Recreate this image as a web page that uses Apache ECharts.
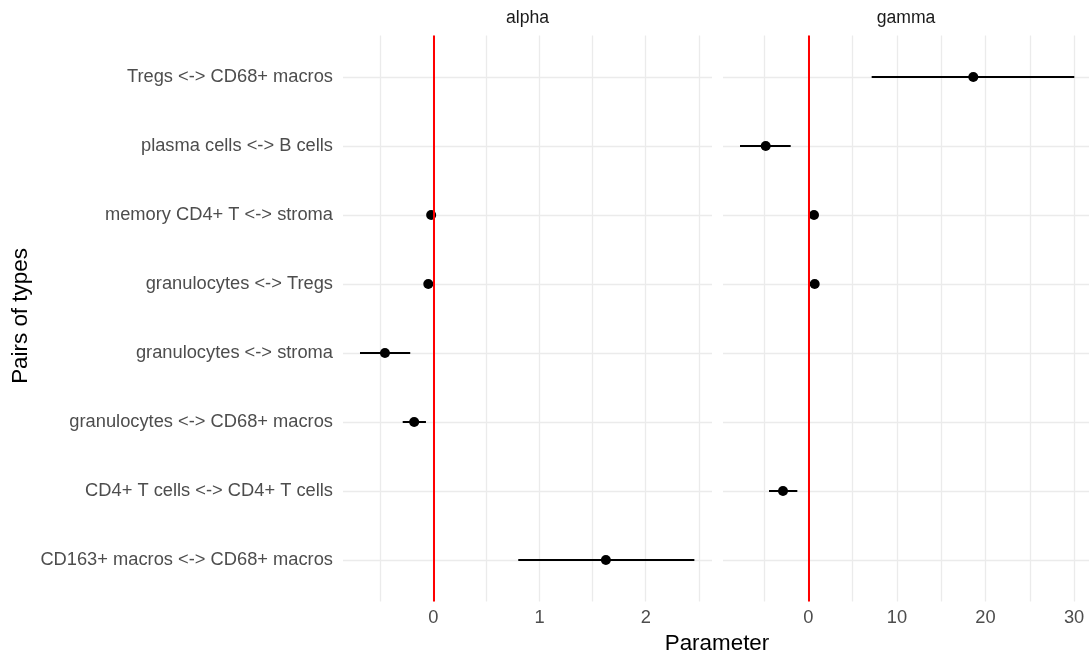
<!DOCTYPE html>
<html>
<head>
<meta charset="utf-8">
<script src="https://cdn.jsdelivr.net/npm/echarts@6/dist/echarts.min.js"></script>
<style>
html,body{margin:0;padding:0;background:#fff;}
#chart{width:1091px;height:660px;}
</style>
</head>
<body>
<div id="chart"></div>
<script>
// ---- data ----
var categories = [
  "CD163+ macros <-> CD68+ macros",
  "CD4+ T cells <-> CD4+ T cells",
  "granulocytes <-> CD68+ macros",
  "granulocytes <-> stroma",
  "granulocytes <-> Tregs",
  "memory CD4+ T <-> stroma",
  "plasma cells <-> B cells",
  "Tregs <-> CD68+ macros"
];
var facets = ["alpha", "gamma"];

var alphaPairs = ["memory CD4+ T <-> stroma", "granulocytes <-> Tregs", "granulocytes <-> stroma", "granulocytes <-> CD68+ macros", "CD163+ macros <-> CD68+ macros"];
var alphaEst   = [-0.02, -0.047, -0.455, -0.18, 1.625];
var alphaLow   = [-0.035, -0.06, -0.69, -0.288, 0.80];
var alphaHigh  = [-0.005, -0.035, -0.217, -0.069, 2.458];

var gammaPairs = ["Tregs <-> CD68+ macros", "plasma cells <-> B cells", "memory CD4+ T <-> stroma", "granulocytes <-> Tregs", "CD4+ T cells <-> CD4+ T cells"];
var gammaEst   = [18.62, -4.81, 0.64, 0.72, -2.86];
var gammaLow   = [7.15, -7.71, 0.45, 0.5, -4.44];
var gammaHigh  = [30.02, -1.99, 0.85, 0.95, -1.24];

var alphaTicks = [0, 1, 2];
var alphaGrid  = [-0.5, 0, 0.5, 1, 1.5, 2, 2.5];
var gammaTicks = [0, 10, 20, 30];
var gammaGrid  = [-5, 0, 5, 10, 15, 20, 25, 30];
var alphaRange = [-0.85, 2.624];
var gammaRange = [-9.63, 31.68];
var refValue = 0;

// ---- build ----
var yIdx = function (name) { return categories.indexOf(name) + 1; };
var yPositions = categories.map(function (c, i) { return i + 1; });

function pointData(pairs, est) {
  return pairs.map(function (p, i) { return [est[i], yIdx(p)]; });
}
function barData(pairs, lo, hi) {
  return pairs.map(function (p, i) { return [lo[i], hi[i], yIdx(p)]; });
}

var gridColor = '#ebebeb';
var tickColor = '#4d4d4d';
var FONT = '"Liberation Sans", Arial, sans-serif';
var TICK_SIZE = 18.3;

function gridSeries(idx, xs) {
  var data = xs.map(function (v) { return { xAxis: v }; })
    .concat(yPositions.map(function (v) { return { yAxis: v }; }));
  return {
    type: 'line', xAxisIndex: idx, yAxisIndex: idx, data: [], silent: true, z: 0,
    markLine: {
      silent: true, symbol: ['none', 'none'], animation: false, z: 0,
      label: { show: false }, emphasis: { disabled: true },
      lineStyle: { color: gridColor, width: 1.3, type: 'solid' },
      data: data
    }
  };
}
function refSeries(idx) {
  return {
    type: 'line', xAxisIndex: idx, yAxisIndex: idx, data: [], silent: true, z: 10,
    markLine: {
      silent: true, symbol: ['none', 'none'], animation: false, z: 10,
      label: { show: false }, emphasis: { disabled: true },
      lineStyle: { color: '#ff0000', width: 2, type: 'solid' },
      data: [{ xAxis: refValue }]
    }
  };
}
function errSeries(idx, data) {
  return {
    type: 'custom', xAxisIndex: idx, yAxisIndex: idx, z: 3, silent: true,
    data: data,
    encode: { x: [0, 1], y: 2 },
    renderItem: function (params, api) {
      var a = api.coord([api.value(0), api.value(2)]);
      var b = api.coord([api.value(1), api.value(2)]);
      return {
        type: 'rect',
        shape: { x: a[0], y: a[1] - 1, width: b[0] - a[0], height: 2 },
        style: { fill: '#000' }
      };
    }
  };
}
function ptSeries(idx, data) {
  return {
    type: 'scatter', xAxisIndex: idx, yAxisIndex: idx, z: 4, silent: true,
    data: data, symbol: 'circle', symbolSize: 10,
    itemStyle: { color: '#000', opacity: 1 }
  };
}

var panelTop = 35.6, panelHeight = 565.8;
var option = {
  animation: false,
  backgroundColor: '#ffffff',
  textStyle: { fontFamily: FONT },
  grid: [
    { left: 343, top: panelTop, width: 369, height: panelHeight },
    { left: 723, top: panelTop, width: 366, height: panelHeight }
  ],
  xAxis: [
    {
      type: 'value', gridIndex: 0, min: alphaRange[0], max: alphaRange[1],
      axisLine: { show: false }, axisTick: { show: false }, splitLine: { show: false },
      axisLabel: { customValues: alphaTicks, color: tickColor, fontSize: TICK_SIZE, margin: 8, fontFamily: FONT }
    },
    {
      type: 'value', gridIndex: 1, min: gammaRange[0], max: gammaRange[1],
      axisLine: { show: false }, axisTick: { show: false }, splitLine: { show: false },
      axisLabel: { customValues: gammaTicks, color: tickColor, fontSize: TICK_SIZE, margin: 8, fontFamily: FONT }
    }
  ],
  yAxis: [
    {
      type: 'value', gridIndex: 0, min: 0.4, max: 8.6,
      axisLine: { show: false }, axisTick: { show: false }, splitLine: { show: false },
      axisLabel: {
        customValues: yPositions, color: tickColor, fontSize: TICK_SIZE, margin: 10, fontFamily: FONT,
        formatter: function (v) { return categories[Math.round(v) - 1] || ''; }
      }
    },
    {
      type: 'value', gridIndex: 1, min: 0.4, max: 8.6,
      axisLine: { show: false }, axisTick: { show: false }, splitLine: { show: false },
      axisLabel: { show: false }
    }
  ],
  series: [
    gridSeries(0, alphaGrid),
    gridSeries(1, gammaGrid),
    errSeries(0, barData(alphaPairs, alphaLow, alphaHigh)),
    errSeries(1, barData(gammaPairs, gammaLow, gammaHigh)),
    ptSeries(0, pointData(alphaPairs, alphaEst)),
    ptSeries(1, pointData(gammaPairs, gammaEst)),
    refSeries(0),
    refSeries(1)
  ],
  graphic: [
    { type: 'text', x: 527.5, y: 18, style: { text: facets[0], fill: '#1a1a1a', font: '17.6px ' + FONT, align: 'center', verticalAlign: 'middle' } },
    { type: 'text', x: 906, y: 18, style: { text: facets[1], fill: '#1a1a1a', font: '17.6px ' + FONT, align: 'center', verticalAlign: 'middle' } },
    { type: 'text', x: 717, y: 644, style: { text: 'Parameter', fill: '#000', font: '22.4px ' + FONT, align: 'center', verticalAlign: 'middle' } },
    { type: 'text', x: 21, y: 316, rotation: Math.PI / 2, style: { text: 'Pairs of types', fill: '#000', font: '22.4px ' + FONT, align: 'center', verticalAlign: 'middle' } }
  ]
};

var chart = echarts.init(document.getElementById('chart'), null, { renderer: 'canvas' });
chart.setOption(option);
</script>
</body>
</html>
